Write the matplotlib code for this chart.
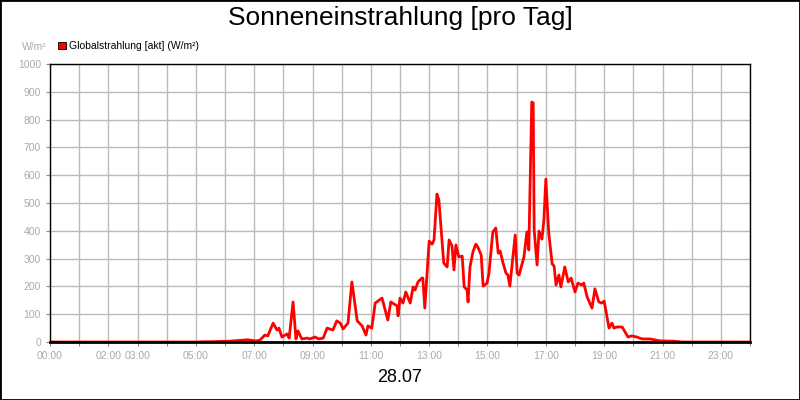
import matplotlib.pyplot as plt
from matplotlib.patches import Rectangle

plt.rcParams['font.family'] = ['Liberation Sans', 'DejaVu Sans']

# minutes after midnight and global radiation (W/m²)
minutes = [0, 300, 319, 329, 370, 391, 407, 422, 428, 432, 442, 448, 459, 467, 471, 477, 488, 492,
           500, 506, 510, 518, 529, 535, 545, 553, 562, 570, 582, 590, 597, 603, 613, 621, 632,
           642, 650, 654, 662, 669, 683, 695, 701, 714, 716, 720, 726, 732, 741, 747, 751, 757,
           765, 767, 771, 780, 786, 790, 796, 800, 810, 817, 821, 827, 831, 835, 841, 848, 852,
           858, 860, 864, 870, 876, 880, 887, 891, 899, 903, 911, 917, 922, 926, 932, 938, 942,
           946, 957, 961, 965, 975, 981, 985, 991, 994, 996, 1002, 1006, 1012, 1016, 1020, 1026,
           1033, 1037, 1041, 1047, 1051, 1059, 1066, 1072, 1080, 1086, 1094, 1098, 1105, 1115,
           1121, 1129, 1135, 1140, 1146, 1150, 1156, 1160, 1166, 1177, 1183, 1189, 1197, 1207,
           1218, 1234, 1255, 1282, 1300, 1440]
values = [0, 0, 1, 1, 3, 6, 8, 4, 5, 7, 25, 22, 68, 43, 50, 18, 29, 14,
          144, 11, 40, 11, 14, 11, 18, 11, 14, 50, 43, 76, 68, 47, 68, 216, 76,
          58, 25, 58, 50, 140, 158, 79, 144, 130, 94, 158, 140, 180, 140, 198, 187, 216,
          230, 230, 122, 363, 352, 367, 532, 511, 284, 270, 367, 345, 259, 349, 306, 309, 198,
          187, 144, 270, 324, 352, 342, 313, 201, 212, 248, 396, 410, 320, 327, 284, 248, 241,
          201, 385, 248, 241, 306, 396, 331, 863, 860, 403, 277, 399, 370, 439, 586, 392,
          281, 273, 205, 241, 198, 270, 216, 230, 180, 212, 205, 212, 162, 122,
          191, 144, 140, 147, 90, 50, 68, 50, 54, 54, 36, 18, 22, 18,
          11, 11, 4, 3, 0, 0]
tick_hours = [0, 2, 3, 5, 7, 9, 11, 13, 15, 17, 19, 21, 23]

fig = plt.figure(figsize=(8, 4), dpi=100)
fig.patches.append(Rectangle((0, 0), 1, 1, transform=fig.transFigure, fill=False,
                             edgecolor='black', linewidth=2))
ax = fig.add_axes([0.0625, 0.145, 0.875, 0.695])

hours = [m / 60 for m in minutes]
ax.plot(hours, values, color='#ff0000', linewidth=2)

ax.set_xlim(0, 24)
ax.set_ylim(0, 1000)
ax.set_xticks(range(0, 25))
ax.set_xticklabels(['%02d:00' % h if h in tick_hours else '' for h in range(25)])
ax.set_yticks(range(0, 1001, 100))
ax.grid(True, color='#bbbbbb', linewidth=1)
ax.tick_params(colors='#888888', labelcolor='#aaaaaa', labelsize=7.5, length=3)
for s in ax.spines.values():
    s.set_color('black')
    s.set_linewidth(1)
ax.spines['bottom'].set_linewidth(2)

fig.text(0.5, 0.955, 'Sonneneinstrahlung [pro Tag]', ha='center', va='center', fontsize=19)
fig.text(0.5, 0.055, '28.07', ha='center', va='center', fontsize=13)
fig.text(0.027, 0.883, 'W/m²', ha='left', va='center', fontsize=7.5, color='#aaaaaa')
fig.patches.append(Rectangle((0.073, 0.877), 0.009, 0.018, transform=fig.transFigure,
                             facecolor='#ff0000', edgecolor='black', linewidth=0.6))
fig.text(0.086, 0.886, 'Globalstrahlung [akt] (W/m²)', ha='left', va='center', fontsize=7.5)

fig.savefig('out.png', dpi=100)
